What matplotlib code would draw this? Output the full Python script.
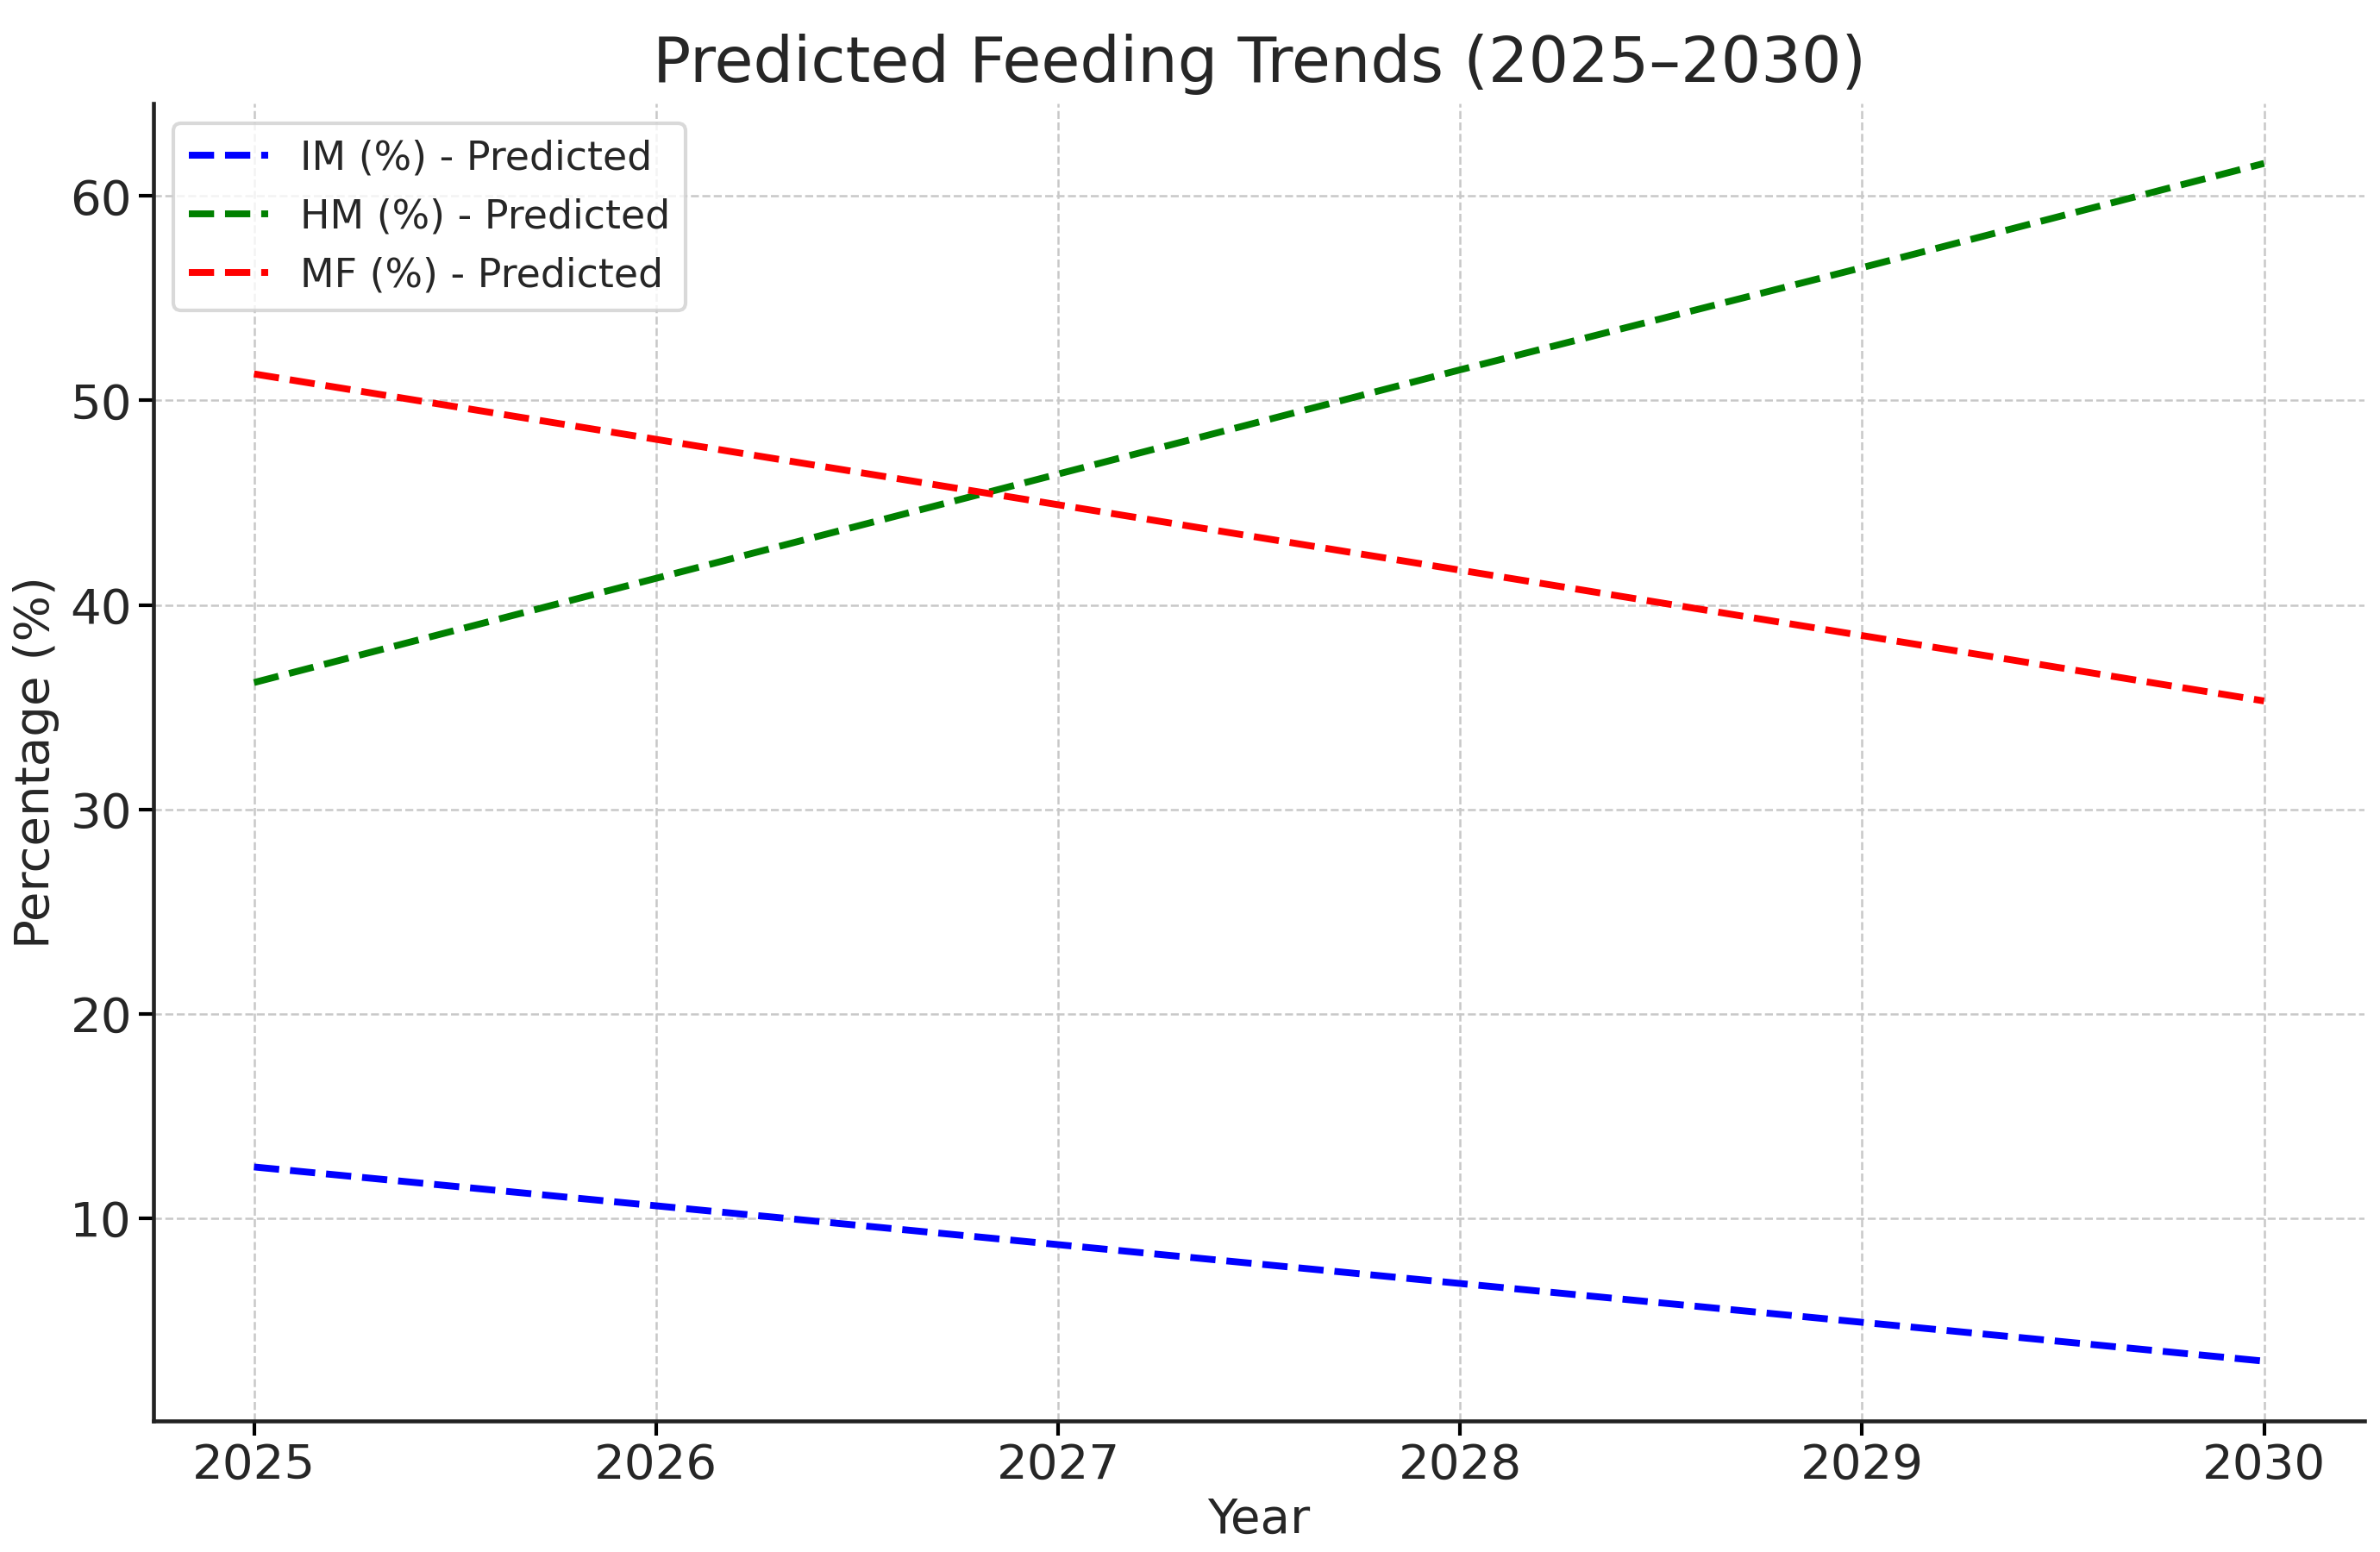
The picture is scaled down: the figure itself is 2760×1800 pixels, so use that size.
import numpy as np
import matplotlib
matplotlib.use('Agg')
import matplotlib.pyplot as plt

# data
years = [2025, 2026, 2027, 2028, 2029, 2030]
im_pred = [12.5, 10.6, 8.7, 6.8, 4.9, 3.0]
hm_pred = [36.2, 41.3, 46.4, 51.5, 56.5, 61.6]
mf_pred = [51.3, 48.1, 44.9, 41.7, 38.5, 35.3]

labels = ['IM (%) - Predicted', 'HM (%) - Predicted', 'MF (%) - Predicted']
colors = ['blue', 'green', 'red']

plt.rcParams['font.family'] = ['DejaVu Sans']
text_color = '#262626'

fig = plt.figure(figsize=(9.2, 6), dpi=300)
ax = fig.add_axes([0.0645, 0.0844, 0.929, 0.8489])

for series, label, color in zip([im_pred, hm_pred, mf_pred], labels, colors):
    ax.plot(years, series, linestyle='--', linewidth=1.9, color=color, label=label)

# 标题和轴标签
ax.set_title('Predicted Feeding Trends (2025–2030)', fontsize=17.6, color=text_color)
ax.set_xlabel('Year', fontsize=13.5, color=text_color, labelpad=2)
ax.set_ylabel('Percentage (%)', fontsize=13.5, color=text_color, labelpad=3)
ax.tick_params(axis='both', labelsize=13.5, labelcolor=text_color, length=4, width=1, pad=2)

# 网格和边框
ax.grid(True, linestyle='--', linewidth=0.6, color='#c8c8c8')
ax.set_axisbelow(True)
ax.spines['top'].set_visible(False)
ax.spines['right'].set_visible(False)
for side in ['left', 'bottom']:
    ax.spines[side].set_linewidth(1.1)
    ax.spines[side].set_color('#222222')

leg = ax.legend(loc='upper left', fontsize=11, frameon=True)
leg.get_frame().set_edgecolor('#d0d0d0')
for t in leg.get_texts():
    t.set_color(text_color)

fig.savefig('out.png', dpi=300)
